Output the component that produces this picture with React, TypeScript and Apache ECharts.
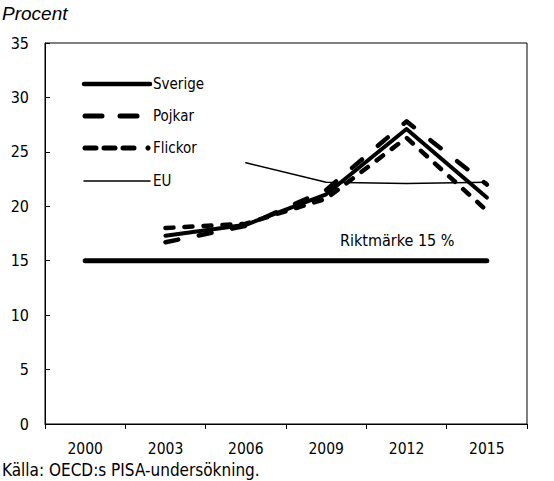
import React, { useEffect, useRef } from "react";
import * as echarts from "echarts";

const years = ["2000", "2003", "2006", "2009", "2012", "2015"];
const sverige = [null, 17.3, 18.3, 21.1, 27.1, 20.8];
const pojkar = [null, 16.7, 18.2, 21.5, 27.8, 22.0];
const flickor = [null, 18.0, 18.4, 20.7, 26.3, 19.6];
const eu = [null, null, 24.0, 22.2, 22.1, 22.2];
const riktmarke = [15, 15, 15, 15, 15, 15];
const legendNames = ["Sverige", "Pojkar", "Flickor", "EU"];
const yTitle = "Procent";
const source = "Källa: OECD:s PISA-undersökning.";
const riktLabel = "Riktmärke 15 %";

const FONT = "Liberation Sans Narrow, DejaVu Sans Condensed, Arial Narrow, sans-serif";

export default function App() {
  const ref = useRef<HTMLDivElement>(null);
  useEffect(() => {
    if (!ref.current) return;
    const chart = echarts.init(ref.current, null, { renderer: "svg" });
    const line = (name: string, data: any[], width: number, type: any) => ({
      name,
      type: "line",
      data,
      symbol: "none",
      lineStyle: { color: "#000", width, type, cap: "round", join: "round" },
      itemStyle: { color: "#000" },
      z: 3,
    });
    const legY = [84, 116, 148, 181];
    const stroke = (x1: number, x2: number, y: number, w: number, dash?: number[]) => ({
      type: "line",
      shape: { x1, y1: y, x2, y2: y },
      style: { stroke: "#000", lineWidth: w, lineCap: "round", lineDash: dash || null },
      silent: true,
    });
    const legendGraphics: any[] = [
      stroke(84, 150, legY[0], 4.5),
      stroke(85, 102, legY[1], 5),
      stroke(120, 137, legY[1], 5),
      stroke(85, 134, legY[2], 5, [11, 8]),
      { type: "circle", shape: { cx: 148, cy: legY[2], r: 2.6 }, style: { fill: "#000" }, silent: true },
      stroke(84, 150, legY[3], 1.5),
      ...legendNames.map((n, i) => ({
        type: "text",
        x: 153,
        y: legY[i],
        style: { text: n, font: "15px " + FONT, fill: "#000", textVerticalAlign: "middle", verticalAlign: "middle" },
        silent: true,
      })),
    ];
    chart.setOption({
      animation: false,
      backgroundColor: "#fff",
      textStyle: { fontFamily: FONT },
      grid: {
        left: 45,
        top: 43,
        right: 27,
        bottom: 57,
        show: true,
        borderColor: "#000",
        borderWidth: 1,
        backgroundColor: "transparent",
      },
      xAxis: {
        type: "category",
        data: years,
        boundaryGap: true,
        axisLine: { lineStyle: { color: "#000", width: 1 } },
        axisTick: { show: true, length: 5, lineStyle: { color: "#000" } },
        axisLabel: { color: "#000", fontFamily: FONT, fontSize: 15.5, lineHeight: 15, margin: 17 },
        splitLine: { show: false },
      },
      yAxis: {
        type: "value",
        min: 0,
        max: 35,
        interval: 5,
        axisLine: { show: true, lineStyle: { color: "#000", width: 1 } },
        axisTick: { show: true, inside: true, length: 5, lineStyle: { color: "#000" } },
        axisLabel: { color: "#000", fontFamily: FONT, fontSize: 16, margin: 16 },
        splitLine: { show: false },
      },
      graphic: [
        {
          type: "text",
          left: 2,
          top: 4,
          style: { text: yTitle, font: "italic 19px Liberation Sans, Arial, sans-serif", fill: "#000" },
        },
        {
          type: "text",
          left: 2,
          top: 461,
          style: { text: source, font: "17px " + FONT, lineHeight: 17, fill: "#000" },
        },
        {
          type: "text",
          left: 340,
          top: 232,
          style: { text: riktLabel, font: "16px " + FONT, fill: "#000" },
        },
        ...legendGraphics,
      ],
      series: [
        {
          name: "Riktmärke",
          type: "line",
          data: riktmarke,
          symbol: "none",
          lineStyle: { color: "#000", width: 5, cap: "round" },
          z: 2,
        },
        line("Sverige", sverige, 4, "solid"),
        line("Pojkar", pojkar, 4.5, [13, 21]),
        line("Flickor", flickor, 4.5, [8, 11]),
        line("EU", eu, 1.5, "solid"),
      ],
    });
    return () => chart.dispose();
  }, []);
  return <div ref={ref} style={{ position: "fixed", left: 0, top: 0, width: 554, height: 481 }} />;
}
